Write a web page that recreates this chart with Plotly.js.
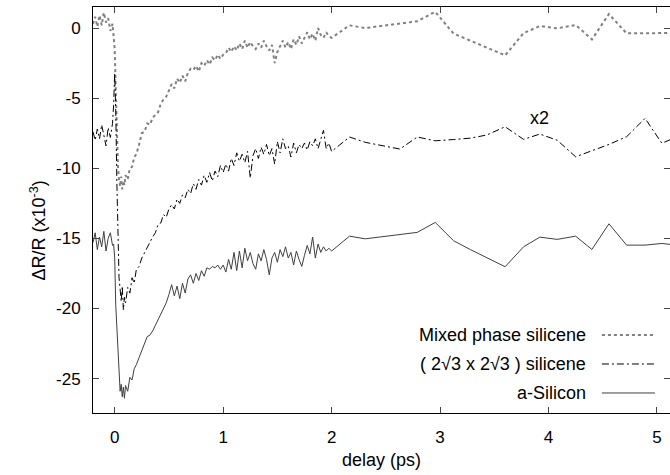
<!DOCTYPE html>
<html>
<head>
<meta charset="utf-8">
<script src="https://cdn.plot.ly/plotly-3.0.1.min.js"></script>
<style>html,body{margin:0;padding:0;background:#fff;}#chart{width:670px;height:475px;}</style>
</head>
<body>
<div id="chart"></div>
<script>
// delay (ps), dense part
var delayDense = [-0.2,-0.18,-0.16,-0.14,-0.12,-0.1,-0.08,-0.06,-0.04,-0.02,-0.01,0,0.01,0.02,0.03,0.04,0.05,0.06,0.07,0.08,0.09,0.1,0.12,0.14,0.16,0.18,0.2,
0.225,0.25,0.275,0.3,0.325,0.35,0.375,0.4,0.425,0.45,0.475,0.5,0.525,0.55,0.575,0.6,0.625,0.65,0.675,0.7,0.725,0.75,0.775,0.8,0.825,0.85,0.875,0.9,0.925,0.95,0.975,1.0,
1.025,1.05,1.075,1.1,1.125,1.15,1.175,1.2,1.225,1.25,1.275,1.3,1.325,1.35,1.375,1.4,1.425,1.45,1.475,1.5,1.525,1.55,1.575,1.6,1.625,1.65,1.675,1.7,1.725,1.75,1.775,1.8,1.825,1.85,1.875,1.9,1.925,1.95,1.975,2.0];
// delay (ps), sparse tail
var delayTail = [2.165,2.31,2.63,2.79,2.955,3.125,3.28,3.43,3.6,3.77,3.92,4.08,4.25,4.4,4.557,4.72,4.89,5.045,5.2];

// Mixed phase silicene (dR/R x1e-3)
var mixedDense = [0.3,0.8,0.1,0.9,0.2,1.1,0.4,0.7,-0.2,0.3,-0.6,
-1.5,-4.5,-8.0,-9.8,-10.8,-11.3,-10.6,-11.5,-10.9,-11.2,-10.5,-10.8,-10.0,-9.9,-9.2,-9.0,
-8.3,-7.5,-7.4,-6.8,-6.9,-6.4,-6.2,-6.0,-5.4,-5.1,-4.9,-4.4,-4.0,-4.3,-3.6,-3.9,-3.4,-3.8,-3.2,-2.9,-3.0,-2.7,-3.1,-2.5,-2.7,-2.3,-2.6,-2.1,-2.3,-1.9,-2.2,-1.9,
-1.8,-1.4,-1.7,-1.3,-1.6,-1.1,-1.5,-0.9,-1.4,-1.0,-1.3,-1.5,-1.1,-1.4,-0.9,-1.3,-1.6,-1.2,-2.5,-1.7,-1.3,-0.9,-1.4,-1.0,-1.5,-0.8,-1.2,-0.6,-1.1,-0.7,-0.3,-0.8,-0.4,-0.9,0.0,-0.5,-0.7,-0.3,-0.6,-0.7];
var mixedTail = [0.19,0.0,0.3,0.48,1.16,-0.4,-0.9,-1.4,-1.95,-0.36,0.14,-0.02,0.21,-0.81,1.0,-0.38,-0.38,-0.33,-0.35];

// (2√3 x 2√3) silicene, x2
var sqrt3Dense = [-7.4,-8.0,-7.2,-7.9,-6.9,-7.6,-8.4,-7.1,-7.8,-6.8,-5.5,
-3.2,-6.0,-11.0,-15.5,-17.8,-18.6,-19.5,-18.4,-20.1,-19.2,-19.6,-18.5,-18.9,-17.8,-18.2,-17.2,
-17.0,-16.4,-16.0,-15.7,-15.3,-14.9,-14.6,-14.0,-13.9,-13.3,-13.5,-12.9,-12.6,-12.9,-12.2,-12.5,-11.9,-12.1,-11.5,-11.8,-11.1,-11.5,-10.8,-11.2,-10.5,-11.0,-10.3,-10.9,-10.2,-10.6,-9.8,-10.3,
-9.7,-10.2,-9.3,-9.8,-8.9,-9.5,-9.0,-9.6,-8.8,-10.7,-9.1,-8.6,-9.3,-8.5,-9.0,-8.3,-9.1,-8.6,-9.7,-8.1,-8.9,-7.9,-8.6,-8.4,-9.2,-8.2,-8.9,-8.3,-8.6,-8.2,-8.7,-8.1,-8.4,-7.9,-8.6,-8.0,-7.3,-8.6,-8.2,-8.8];
var sqrt3Tail = [-7.77,-8.15,-8.63,-7.77,-8.04,-7.95,-7.85,-7.63,-7.04,-7.94,-7.56,-8.0,-9.18,-8.75,-8.3,-7.75,-6.44,-8.22,-7.7];

// a-Silicon
var aSiDense = [-15.3,-14.6,-15.8,-14.9,-15.6,-14.5,-15.9,-15.0,-14.6,-15.5,-15.4,
-16.4,-19.8,-21.5,-22.8,-24.6,-25.9,-25.4,-26.3,-25.6,-26.4,-25.5,-25.9,-24.9,-25.1,-24.3,-24.0,
-23.5,-23.0,-22.6,-22.0,-21.9,-21.6,-21.2,-20.8,-20.5,-20.0,-19.6,-19.0,-18.3,-19.1,-18.4,-19.3,-18.2,-18.9,-17.9,-17.6,-18.2,-17.5,-18.0,-17.3,-17.7,-17.1,-17.2,-17.0,-17.1,-16.9,-17.2,-16.9,
-17.4,-16.5,-17.2,-16.0,-17.3,-15.9,-17.1,-15.7,-16.6,-16.0,-16.8,-17.2,-16.1,-16.6,-15.8,-16.5,-17.6,-16.4,-16.0,-16.7,-15.8,-16.3,-15.6,-16.4,-16.0,-16.9,-15.9,-16.5,-17.0,-16.2,-15.5,-16.1,-14.9,-16.4,-15.4,-16.0,-15.6,-15.9,-15.7,-15.9];
var aSiTail = [-14.84,-15.03,-14.75,-14.57,-13.86,-15.17,-15.8,-16.36,-17.02,-15.6,-14.91,-15.07,-14.84,-15.79,-13.96,-15.48,-15.48,-15.36,-15.5];

var seriesNames = ['Mixed phase silicene', '( 2\u221A3 x 2\u221A3 ) silicene', 'a-Silicon'];
var xTickVals = [0,1,2,3,4,5];
var xTickLabels = ['0','1','2','3','4','5'];
var yTickVals = [0,-5,-10,-15,-20,-25];
var yTickLabels = ['0','-5','-10','-15','-20','-25'];

var FONT = 'Liberation Sans, Arial, sans-serif';
var xs = delayDense.concat(delayTail);
var styles = [
  {color:'#808080', width:2, dash:'3px,3px'},
  {color:'#000000', width:1, dash:'7px,3px,2px,3px'},
  {color:'#404040', width:1, dash:'solid'}
];
var ys = [mixedDense.concat(mixedTail), sqrt3Dense.concat(sqrt3Tail), aSiDense.concat(aSiTail)];
var traces = ys.map(function(y,i){
  return {x:xs, y:y, type:'scatter', mode:'lines', name:seriesNames[i], line:styles[i], showlegend:false};
});

var legY = [0.192, 0.1207, 0.0493];
var annotations = [
  {text:'\u0394R/R (x10<sup>-3</sup>)', xref:'paper', yref:'paper', x:-0.095, y:0.45, textangle:-90,
   showarrow:false, font:{family:FONT, size:18, color:'#000'}, xanchor:'center', yanchor:'middle'},
  {text:'x2', xref:'x', yref:'y', x:3.92, y:-6.4, showarrow:false, font:{family:FONT, size:18, color:'#000'}}
];
var shapes = [];
seriesNames.forEach(function(n,i){
  annotations.push({text:n, xref:'paper', yref:'paper', x:0.858, y:legY[i], xanchor:'right', yanchor:'middle',
    showarrow:false, font:{family:FONT, size:18, color:'#000'}});
  shapes.push({type:'line', xref:'paper', yref:'paper', x0:0.882, x1:0.974, y0:legY[i], y1:legY[i],
    line:{color:styles[i].color, width:styles[i].width, dash:styles[i].dash}});
});

var layout = {
  width:670, height:475,
  margin:{l:93, r:0, t:7, b:62},
  paper_bgcolor:'#fff', plot_bgcolor:'#fff',
  font:{family:FONT, size:17, color:'#000'},
  xaxis:{range:[-0.2,5.12], tickvals:xTickVals, ticktext:xTickLabels, ticks:'inside', ticklen:6,
    showline:true, linecolor:'#000', linewidth:1, mirror:'ticks', showgrid:false, zeroline:false,
    ticklabelstandoff:9, title:{text:'delay (ps)', font:{family:FONT, size:18}, standoff:6}},
  yaxis:{range:[-27.45,1.5], tickvals:yTickVals, ticktext:yTickLabels, ticks:'inside', ticklen:6,
    showline:true, linecolor:'#000', linewidth:1, mirror:'ticks', showgrid:false, zeroline:false,
    ticklabelstandoff:8},
  annotations:annotations,
  shapes:shapes,
  showlegend:false
};
Plotly.newPlot('chart', traces, layout, {displayModeBar:false, staticPlot:true});
</script>
</body>
</html>
